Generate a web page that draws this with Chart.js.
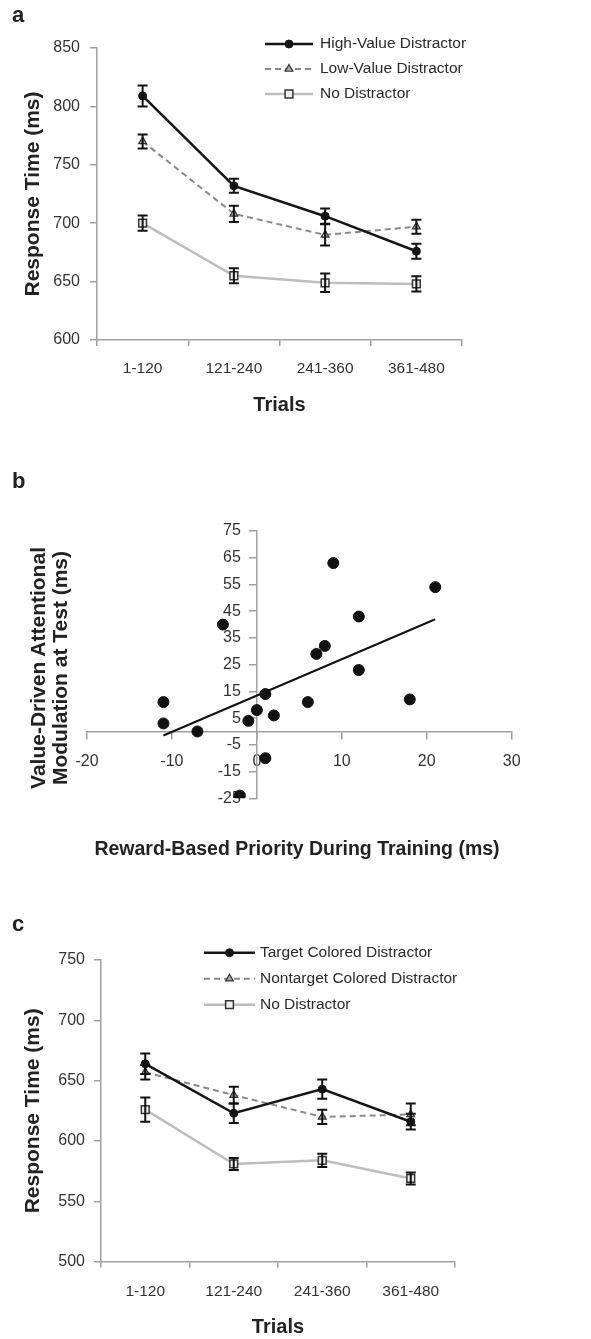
<!DOCTYPE html>
<html>
<head>
<meta charset="utf-8">
<script src="https://cdn.jsdelivr.net/npm/chart.js@4.4.1/dist/chart.umd.min.js"></script>
<style>
  body { margin: 0; background: #fff; }
  #page { position: relative; width: 591px; height: 1339px; overflow: hidden; font-family: 'Liberation Sans', Arial, sans-serif; color: #222; }
  canvas { position: absolute; left: 0; }
  .letter { position: absolute; left: 12px; font-size: 22px; font-weight: bold; line-height: 22px; }
  .title { position: absolute; font-weight: bold; text-align: center; white-space: nowrap; color: #222; }
</style>
</head>
<body>
<div id="page">
  <canvas id="chartA" width="591" height="440" style="top:0"></canvas>
  <canvas id="chartB" width="591" height="440" style="top:440px"></canvas>
  <canvas id="chartC" width="591" height="459" style="top:880px"></canvas>

  <div class="letter" style="top:4px">a</div>
  <div class="letter" style="top:470px">b</div>
  <div class="letter" style="top:913px">c</div>

  <div class="title" style="left:-111px; top:646px; width:320px; height:44px; font-size:21px; line-height:22px; transform:rotate(-90deg)">Value-Driven Attentional<br>Modulation at Test (ms)</div>
  <div class="title" style="left:-3px; top:836px; width:600px; font-size:19.5px; line-height:24px">Reward-Based Priority During Training (ms)</div>
</div>

<script>
// ---- data ----
const trialLabels = ['1-120', '121-240', '241-360', '361-480']

// panel a
const highValue = [809, 732, 706, 676]
const highValueErr = [9, 6, 6.5, 6.5]
const lowValue = [770, 708, 690, 697]
const lowValueErr = [6, 7, 9, 6]
const noDistractorA = [700, 655, 649, 648]
const noDistractorAErr = [6.5, 6.5, 8, 6.5]

// panel b
const priority = [-11, -11, -7, -4, -1, 0, 1, 2, 1, -2, 6, 7, 8, 9, 12, 12, 18, 21]
const modulation = [11, 3, 0, 40, 4, 8, 14, 6, -10, -24, 11, 29, 32, 63, 43, 23, 12, 54]
const fitX = [-11, 21]
const fitY = [-1.5, 42]

// panel c
const targetColored = [664, 623, 643, 616]
const targetColoredErr = [8.5, 8, 8, 6.5]
const nontargetColored = [657, 638, 620, 622]
const nontargetColoredErr = [6, 7, 6, 9]
const noDistractorC = [626, 581, 584, 569]
const noDistractorCErr = [10, 5, 5.5, 5]

// ---- styles ----
const font = "'Liberation Sans', Arial, sans-serif"
const axisGray = '#a0a0a0'
const tickColor = '#333'

Chart.defaults.font.family = font
Chart.defaults.color = tickColor
Chart.defaults.animation = false
Chart.defaults.plugins.legend.display = false
Chart.defaults.plugins.tooltip.enabled = false

const drawMarker = (ctx, ds, x, y) => {
    const r = ds.pointRadius
    ctx.beginPath()
    if (ds.pointStyle === 'circle') {
        ctx.arc(x, y, r, 0, Math.PI * 2)
    }
    else if (ds.pointStyle === 'triangle') {
        let rad = 0
        ctx.moveTo(x + Math.sin(rad) * r, y - Math.cos(rad) * r)
        rad += Math.PI * 2 / 3
        ctx.lineTo(x + Math.sin(rad) * r, y - Math.cos(rad) * r)
        rad += Math.PI * 2 / 3
        ctx.lineTo(x + Math.sin(rad) * r, y - Math.cos(rad) * r)
        ctx.closePath()
    }
    else {
        const s = r * Math.SQRT1_2
        ctx.rect(x - s, y - s, 2 * s, 2 * s)
    }
    ctx.fillStyle = ds.pointBackgroundColor
    ctx.fill()
    ctx.lineWidth = ds.pointBorderWidth || 1
    ctx.strokeStyle = ds.pointBorderColor
    ctx.stroke()
}

const errorBars = {
    id: 'errorBars',
    afterDatasetsDraw(chart, args, opts) {
        const ctx = chart.ctx
        const yScale = chart.scales.y
        ctx.save()
        ctx.strokeStyle = opts.color
        ctx.lineWidth = opts.width
        chart.data.datasets.forEach((ds, i) => {
            if (!ds.errors) return
            chart.getDatasetMeta(i).data.forEach((pt, j) => {
                const top = yScale.getPixelForValue(ds.data[j] + ds.errors[j])
                const bot = yScale.getPixelForValue(ds.data[j] - ds.errors[j])
                ctx.beginPath()
                ctx.moveTo(pt.x, top)
                ctx.lineTo(pt.x, bot)
                ctx.moveTo(pt.x - opts.cap, top)
                ctx.lineTo(pt.x + opts.cap, top)
                ctx.moveTo(pt.x - opts.cap, bot)
                ctx.lineTo(pt.x + opts.cap, bot)
                ctx.stroke()
            })
        })
        ctx.restore()
    }
}

const lineLegend = {
    id: 'lineLegend',
    afterDraw(chart, args, opts) {
        const ctx = chart.ctx
        ctx.save()
        ctx.font = `${opts.size}px ${font}`
        ctx.textBaseline = 'middle'
        chart.data.datasets.forEach((ds, i) => {
            const y = opts.y + i * opts.row
            ctx.beginPath()
            ctx.setLineDash(ds.borderDash || [])
            ctx.strokeStyle = ds.borderColor
            ctx.lineWidth = ds.borderWidth
            ctx.moveTo(opts.x0, y)
            ctx.lineTo(opts.x1, y)
            ctx.stroke()
            ctx.setLineDash([])
            drawMarker(ctx, ds, (opts.x0 + opts.x1) / 2, y)
            ctx.fillStyle = opts.color
            ctx.fillText(ds.label, opts.tx, y)
        })
        ctx.restore()
    }
}

const solidBlack = (label, data, errors) => ({
    label, data, errors,
    borderColor: '#151515', borderWidth: 2.5,
    pointStyle: 'circle', pointRadius: 4,
    pointBackgroundColor: '#151515', pointBorderColor: '#151515', pointBorderWidth: 1
})
const dashedGray = (label, data, errors) => ({
    label, data, errors,
    borderColor: '#8a8a8a', borderWidth: 2, borderDash: [6, 4],
    pointStyle: 'triangle', pointRadius: 4.5,
    pointBackgroundColor: '#a8a8a8', pointBorderColor: '#333', pointBorderWidth: 1.2
})
const lightGray = (label, data, errors) => ({
    label, data, errors,
    borderColor: '#bdbdbd', borderWidth: 2.5,
    pointStyle: 'rect', pointRadius: 5.5,
    pointBackgroundColor: '#eeeeee', pointBorderColor: '#333', pointBorderWidth: 1.5
})

const trialChart = (id, datasets, o) => new Chart(document.getElementById(id), {
    type: 'line',
    data: { labels: trialLabels, datasets },
    plugins: [errorBars, lineLegend],
    options: {
        responsive: false,
        layout: { padding: o.padding },
        plugins: {
            errorBars: { color: '#111', width: 2, cap: 5 },
            lineLegend: Object.assign({ size: 15.5, color: '#2a2a2a' }, o.legend)
        },
        scales: {
            x: {
                offset: true,
                grid: { offset: true, drawOnChartArea: false, tickLength: 6, color: axisGray, lineWidth: 1.5 },
                border: { color: axisGray, width: 1.5 },
                ticks: { font: { size: 15.5 }, padding: o.xTickPad, color: tickColor },
                title: { display: true, text: 'Trials', color: '#222', font: { size: 20, weight: 'bold' }, padding: { top: 0, bottom: o.xTitlePad } },
                afterFit: s => { s.height = o.xHeight }
            },
            y: {
                min: o.yMin, max: o.yMax,
                grid: { drawOnChartArea: false, tickLength: 7, color: axisGray, lineWidth: 1.5 },
                border: { color: axisGray, width: 1.5 },
                ticks: { stepSize: 50, font: { size: 16 }, padding: o.yTickPad, color: tickColor },
                title: { display: true, text: 'Response Time (ms)', color: '#222', font: { size: 21, weight: 'bold' }, padding: { top: 21, bottom: 0 } },
                afterFit: s => { s.width = o.yWidth }
            }
        }
    }
})

// ---- panel a ----
trialChart('chartA', [
    solidBlack('High-Value Distractor', highValue, highValueErr),
    dashedGray('Low-Value Distractor', lowValue, lowValueErr),
    lightGray('No Distractor', noDistractorA, noDistractorAErr)
], {
    padding: { left: 0, right: 129, top: 48, bottom: 0 },
    yMin: 600, yMax: 850, yWidth: 97, xHeight: 100,
    xTickPad: 13, yTickPad: 10, xTitlePad: 23,
    legend: { x0: 265, x1: 313, tx: 320, y: 44, row: 25 }
})

// ---- panel c ----
trialChart('chartC', [
    solidBlack('Target Colored Distractor', targetColored, targetColoredErr),
    dashedGray('Nontarget Colored Distractor', nontargetColored, nontargetColoredErr),
    lightGray('No Distractor', noDistractorC, noDistractorCErr)
], {
    padding: { left: 0, right: 136, top: 80, bottom: 0 },
    yMin: 500, yMax: 750, yWidth: 101, xHeight: 77.3,
    xTickPad: 15, yTickPad: 9, xTitlePad: 0,
    legend: { x0: 204, x1: 255, tx: 260, y: 72.7, row: 26 }
})

// ---- panel b ----
// axes cross at zero; y labels sit left of the axis, so pad them with an em space
new Chart(document.getElementById('chartB'), {
    type: 'scatter',
    data: {
        datasets: [
            {
                data: priority.map((x, i) => ({ x, y: modulation[i] })),
                pointRadius: 5.5, pointBackgroundColor: '#111', pointBorderColor: '#111'
            },
            {
                type: 'line',
                data: fitX.map((x, i) => ({ x, y: fitY[i] })),
                showLine: true, pointRadius: 0, borderColor: '#111', borderWidth: 2
            }
        ]
    },
    options: {
        responsive: false,
        layout: { padding: { left: 87, right: 79.3, top: 91, bottom: 81.7 } },
        scales: {
            x: {
                type: 'linear', position: { y: 0 }, min: -20, max: 30,
                grid: { drawOnChartArea: false, tickLength: 7, color: axisGray, lineWidth: 1.5 },
                border: { color: axisGray, width: 1.5 },
                ticks: { stepSize: 10, font: { size: 16 }, padding: 14, color: tickColor }
            },
            y: {
                type: 'linear', position: { x: 0 }, min: -25, max: 75,
                grid: { drawOnChartArea: false, tickLength: 7, color: axisGray, lineWidth: 1.5 },
                border: { color: axisGray, width: 1.5 },
                ticks: { stepSize: 10, font: { size: 16 }, color: tickColor, callback: v => v + '\u2003' }
            }
        }
    }
})
</script>
</body>
</html>
